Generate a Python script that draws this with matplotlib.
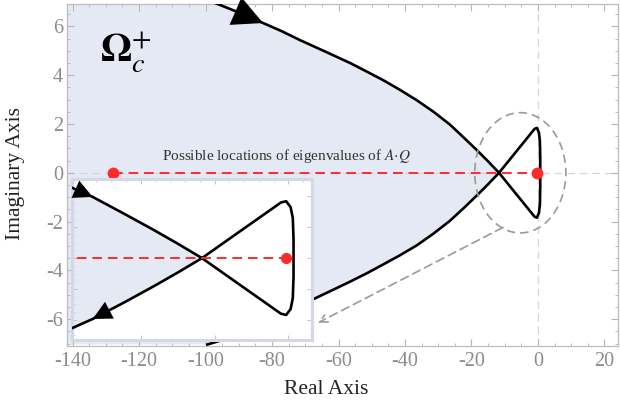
import matplotlib
matplotlib.use('Agg')
import matplotlib.pyplot as plt
from matplotlib.patches import Ellipse
from matplotlib.ticker import MultipleLocator, FixedLocator

plt.rcParams['font.family'] = ['Liberation Serif', 'DejaVu Serif']
plt.rcParams['mathtext.fontset'] = 'stix'
plt.rcParams['axes.unicode_minus'] = False

# ---- data ----
upper_re = [-98.6, -90.5, -82.7, -77.0, -71.6, -64.0, -56.5, -51.5, -46.6, -41.5, -36.4,
            -31.4, -26.5, -22.2, -18.3, -15.0, -11.7]
upper_im = [7.04, 6.60, 6.14, 5.80, 5.44, 4.97, 4.50, 4.15, 3.80, 3.40, 2.97,
            2.50, 1.98, 1.43, 0.92, 0.47, 0.0]
loop_re = [-6.0, -1.0, -0.3, 0.3, 0.6, 0.7, 0.7, 0.7, 0.6, 0.3, -0.3, -1.0, -6.0, -11.7]
loop_im = [-0.96, -1.80, -1.84, -1.65, -1.30, -0.60, 0.0, 0.60, 1.30, 1.65, 1.84, 1.80, 0.96, 0.0]
lower_re = [-15.0, -18.3, -22.2, -26.5, -31.4, -36.4, -41.5, -46.6, -51.5, -56.5, -62.0,
            -67.1, -71.6, -82.7, -93.5, -99.5]
lower_im = [-0.47, -0.92, -1.43, -1.97, -2.49, -2.97, -3.38, -3.76, -4.12, -4.46, -4.82,
            -5.15, -5.44, -6.14, -6.80, -7.04]
eig_re = [-127.8, -0.3]
eig_im = [0.0, 0.0]
xticks = [-140, -120, -100, -80, -60, -40, -20, 0, 20]
yticks = [-6, -4, -2, 0, 2, 4, 6]

curve_re = upper_re + loop_re + lower_re
curve_im = upper_im + loop_im + lower_im
branch_re = upper_re + lower_re
branch_im = upper_im + lower_im

FILL = '#e4e9f4'
RED = '#ff2b2b'
GRAY = '#9a9a9a'

fig = plt.figure(figsize=(6.2, 4.07), dpi=100)
ax = fig.add_axes([67/620, 61/407, 551/620, 342/407])
ax.set_xlim(-141.7, 24.1)
ax.set_ylim(-7.1, 6.92)

ax.fill_betweenx(branch_im, -300, branch_re, color=FILL, lw=0, zorder=0)
ax.axhline(0, color='#d6d6d6', ls=(0, (6, 4)), lw=0.9, zorder=1)
ax.axvline(0, color='#d6d6d6', ls=(0, (6, 4)), lw=0.9, zorder=1)
ax.plot(curve_re, curve_im, color='k', lw=1.9, zorder=3, solid_joinstyle='round')
ax.plot(eig_re, eig_im, color=RED, ls=(0, (5, 3)), lw=1.4, zorder=4)
ax.plot(eig_re, eig_im, 'o', color=RED, ms=7.5, zorder=5, ls='none')

ax.annotate('', xy=(upper_re[2], upper_im[2]), xytext=(upper_re[1], upper_im[1]),
            arrowprops=dict(arrowstyle='-|>,head_length=0.8,head_width=0.4', color='k',
                            lw=0, mutation_scale=27, shrinkA=0, shrinkB=0), zorder=6)

ax.add_patch(Ellipse((-5.3, 0.0), 27.4, 4.93, fill=False, ls=(0, (5, 3)), ec=GRAY, lw=1.2, zorder=4))
ax.annotate('', xy=(-66.2, -6.15), xytext=(-10.5, -2.24),
            arrowprops=dict(arrowstyle='->', ls=(0, (5, 3)), color=GRAY, lw=1.2,
                            mutation_scale=14, shrinkA=0, shrinkB=0), zorder=4)

ax.text(-131.7, 4.54, r'$\mathbf{\Omega}_{c}^{+}$', fontsize=29, ha='left', va='baseline', color='k')
ax.text(-75.6, 0.51, r'Possible locations of eigenvalues of $A{\cdot}Q$', fontsize=11,
        ha='center', va='baseline', color='#333333')

ax.xaxis.set_major_locator(FixedLocator(xticks))
ax.yaxis.set_major_locator(FixedLocator(yticks))
ax.xaxis.set_minor_locator(MultipleLocator(5))
ax.yaxis.set_minor_locator(MultipleLocator(0.5))
ax.tick_params(which='both', direction='in', top=True, right=True, color='#b5b5b5')
ax.tick_params(which='major', length=5, width=0.8, labelsize=14.5, labelcolor='#8c8c8c')
ax.tick_params(axis='x', which='major', pad=4)
ax.tick_params(axis='y', which='major', pad=3)
ax.tick_params(which='minor', length=2.5, width=0.6)
for s in ax.spines.values():
    s.set_color('#bdbdbd')
    s.set_linewidth(0.9)

ax.set_xlabel('Real Axis', fontsize=15.5, color='#222222')
ax.xaxis.set_label_coords(0.47, -0.098)
ax.set_ylabel('Imaginary Axis', fontsize=15.5, color='#222222')
ax.yaxis.label.set_va('center')
ax.yaxis.set_label_coords(-0.0926, 0.503)

# ---- inset ----
ins = fig.add_axes([72/620, (407-340)/407, 240/620, 161/407])
ins.set_facecolor('white')
ins.set_xlim(-29.3, 3.2)
ins.set_ylim(-2.65, 2.56)
ins.fill_betweenx(branch_im, -300, branch_re, color=FILL, lw=0, zorder=0)
ins.plot(curve_re, curve_im, color='k', lw=1.9, zorder=3, solid_joinstyle='round')
ins.plot(eig_re, eig_im, color=RED, ls=(0, (5, 3)), lw=1.4, zorder=4)
ins.plot(eig_re, eig_im, 'o', color=RED, ms=7, zorder=5, ls='none')
ins.annotate('', xy=(upper_re[12], upper_im[12]), xytext=(upper_re[11], upper_im[11]),
             arrowprops=dict(arrowstyle='-|>,head_length=0.8,head_width=0.4', color='k',
                             lw=0, mutation_scale=17, shrinkA=0, shrinkB=0), zorder=6)
ins.annotate('', xy=(lower_re[3], lower_im[3]), xytext=(lower_re[2], lower_im[2]),
             arrowprops=dict(arrowstyle='-|>,head_length=0.8,head_width=0.4', color='k',
                             lw=0, mutation_scale=17, shrinkA=0, shrinkB=0), zorder=6)
ins.xaxis.set_major_locator(MultipleLocator(10))
ins.xaxis.set_minor_locator(MultipleLocator(2))
ins.yaxis.set_major_locator(MultipleLocator(1))
ins.yaxis.set_minor_locator(MultipleLocator(0.25))
ins.tick_params(which='both', direction='in', top=True, right=True, color='#c5c5c5',
                labelbottom=False, labelleft=False)
ins.tick_params(which='major', length=3.5, width=0.7)
ins.tick_params(which='minor', length=1.8, width=0.5)
for s in ins.spines.values():
    s.set_color('#d3d9e4')
    s.set_linewidth(2.2)

fig.savefig('out.png', dpi=100)
